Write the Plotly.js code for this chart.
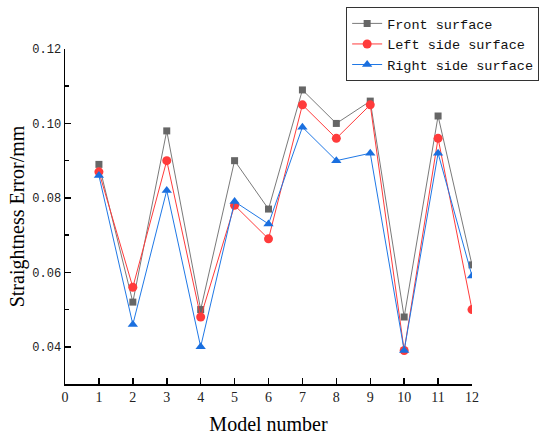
<!DOCTYPE html>
<html>
<head>
<meta charset="utf-8">
<script src="https://cdn.plot.ly/plotly-3.0.1.min.js"></script>
<style>html,body{margin:0;padding:0;background:#fff;}#chart{width:550px;height:439px;}</style>
</head>
<body>
<div id="chart"></div>
<script>
const models = [1,2,3,4,5,6,7,8,9,10,11,12];
const frontSurface = [0.089,0.052,0.098,0.050,0.090,0.077,0.109,0.100,0.106,0.048,0.102,0.062];
const leftSideSurface = [0.087,0.056,0.090,0.048,0.078,0.069,0.105,0.096,0.105,0.039,0.096,0.050];
const rightSideSurface = [0.086,0.046,0.082,0.040,0.079,0.073,0.099,0.090,0.092,0.039,0.092,0.059];
const xTickVals = [0,1,2,3,4,5,6,7,8,9,10,11,12];
const yTickVals = [0.04,0.06,0.08,0.10,0.12];
const yTickText = ["0.04","0.06","0.08","0.10","0.12"];

const traces = [
  {x: models, y: frontSurface, name: 'Front surface', mode: 'lines+markers',
   line: {color: '#7a7a7a', width: 1}, marker: {symbol: 'square', size: 7, color: '#666666'}},
  {x: models, y: leftSideSurface, name: 'Left side surface', mode: 'lines+markers',
   line: {color: '#ff3b3b', width: 1}, marker: {symbol: 'circle', size: 9, color: '#ff3b3b'}},
  {x: models, y: rightSideSurface, name: 'Right side surface', mode: 'lines+markers',
   line: {color: '#1f78e6', width: 1}, marker: {symbol: 'triangle-up', size: 9, color: '#1a6fdf'}}
];

const layout = {
  width: 550, height: 439,
  margin: {l: 65, r: 78, t: 49, b: 55, autoexpand: false},
  paper_bgcolor: '#fff', plot_bgcolor: '#fff',
  showlegend: true,
  legend: {x: 1.165, xanchor: 'right', y: 1.125, yanchor: 'top',
    bordercolor: '#333', borderwidth: 1, bgcolor: '#fff',
    font: {family: 'Liberation Mono', size: 13.5, color: '#111'},
    tracegroupgap: 0, itemwidth: 30},
  xaxis: {range: [0, 12], tickvals: xTickVals, ticktext: xTickVals.map(String),
    ticks: 'inside', ticklen: 6, tickwidth: 1.5, tickcolor: '#000',
    showline: true, linecolor: '#000', linewidth: 1.5, showgrid: false, zeroline: false,
    tickfont: {family: 'Liberation Serif', size: 14, color: '#222'},
    title: {text: 'Model number', font: {family: 'Liberation Serif', size: 20, color: '#000'}, standoff: 12}},
  yaxis: {range: [0.03, 0.12], tickvals: yTickVals, ticktext: yTickText,
    ticks: 'inside', ticklen: 6, tickwidth: 1.5, tickcolor: '#000',
    minor: {dtick: 0.01, tick0: 0.03, ticks: 'inside', ticklen: 4, tickwidth: 1.5, tickcolor: '#000', showgrid: false},
    showline: true, linecolor: '#000', linewidth: 1.5, showgrid: false, zeroline: false,
    tickfont: {family: 'Liberation Mono', size: 12, color: '#222'},
    title: {text: 'Straightness Error/mm', font: {family: 'Liberation Serif', size: 20, color: '#000'}, standoff: 2}}
};

Plotly.newPlot('chart', traces, layout, {displayModeBar: false, staticPlot: true});
</script>
</body>
</html>
